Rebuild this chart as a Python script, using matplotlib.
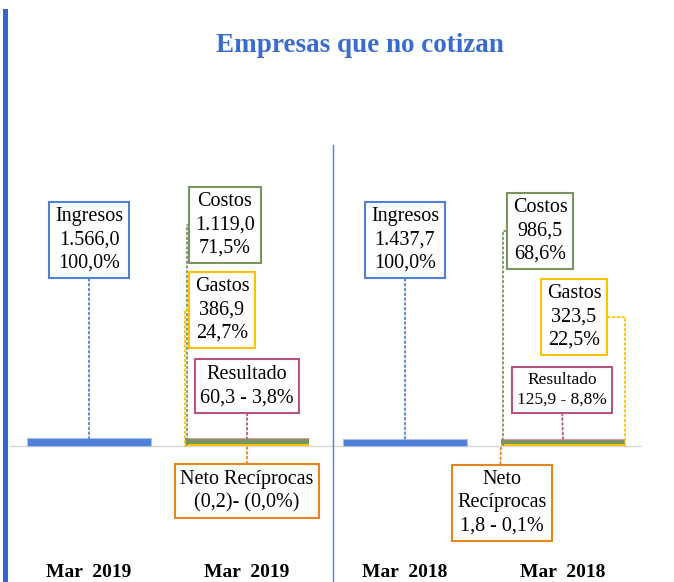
import matplotlib.pyplot as plt
from matplotlib.patches import Rectangle

plt.rcParams['font.family'] = ['Liberation Serif', 'DejaVu Serif']

# data (millones)
periodos = ["Mar  2019", "Mar  2019", "Mar  2018", "Mar  2018"]
ingresos = [1566.0, 1437.7]
costos = [1119.0, 986.5]
gastos = [386.9, 323.5]
resultado = [60.3, 125.9]
neto_reciprocas = [-0.2, 1.8]
pct_costos = ["71,5%", "68,6%"]
pct_gastos = ["24,7%", "22,5%"]
pct_resultado = ["3,8%", "8,8%"]
pct_neto = ["(0,0%)", "0,1%"]

c_ing = "#4F7FD6"
c_cos = "#7A9460"
c_gas = "#FFC000"
c_res = "#B8527E"
c_net = "#E5851C"

W, H = 674, 582
fig = plt.figure(figsize=(W / 100, H / 100), dpi=100)
ax = fig.add_axes([10 / W, 24 / H, 632 / W, 413 / H])

bw = 0.785
x_ing = [0, 2]
x_stk = [1, 3]
ax.bar(x_ing, ingresos, width=bw, color=c_ing, edgecolor="#A9C0EC", linewidth=0.8, zorder=3)
ax.bar(x_stk, gastos, width=bw, color=c_gas, zorder=3)
ax.bar(x_stk, costos, width=bw, bottom=gastos, color=c_cos, zorder=3)
bot = [g + c for g, c in zip(gastos, costos)]
ax.bar(x_stk, resultado, width=bw, bottom=bot, color=c_res, edgecolor="#D99AA8", linewidth=0.8, zorder=3)

ax.set_xlim(-0.5, 3.5)
ax.set_ylim(-112 * 195.75, 301 * 195.75)
ax.axhline(0, color="#D9D9D9", lw=1, zorder=1)
ax.axvline(1.545, ymin=-24 / 413, ymax=1, color="#5B7BD0", lw=1, clip_on=False)
for s in ax.spines.values():
    s.set_visible(False)
ax.set_yticks([])
ax.set_xticks(range(4))
ax.set_xticklabels(periodos, fontsize=14, fontweight="bold")
ax.tick_params(axis="x", length=0, pad=4)


def label(txt, xy, pos, color, conn="arc3", relpos=(0.5, 0.5), size=14.5):
    ax.annotate(txt, xy=xy, xycoords="data", xytext=(pos[0], H - pos[1]),
                textcoords="figure pixels", ha="center", va="center",
                fontsize=size, linespacing=1.3,
                bbox=dict(boxstyle="square,pad=0.28", fc="white", ec=color, lw=1.5),
                arrowprops=dict(arrowstyle="-", color=color, ls=":", lw=1.3,
                                connectionstyle=conn, relpos=relpos,
                                shrinkA=0, shrinkB=0),
                zorder=5)


fmt = lambda v: f"{v:,.1f}".replace(",", "X").replace(".", ",").replace("X", ".")
pos_ing = [(89, 240), (405, 240)]
pos_cos = [(225, 225), (540, 231)]
pos_gas = [(222, 310), (574, 317)]
pos_res = [(247, 386), (562, 390)]
pos_net = [(247, 491), (502, 503)]
res_size = [14.5, 12.5]

for i in range(2):
    xi, xs = x_ing[i], x_stk[i]
    left, right = xs - bw / 2, xs + bw / 2
    top = ingresos[i]
    label(f"Ingresos\n{fmt(ingresos[i])}\n100,0%", (xi, top), pos_ing[i], c_ing,
          relpos=(0.5, 0))
    label(f"Costos\n{fmt(costos[i])}\n{pct_costos[i]}", (left + 0.01, 0), pos_cos[i], c_cos,
          conn="angle,angleA=0,angleB=90,rad=0", relpos=(0, 0.5))
    if i == 0:
        label(f"Gastos\n{fmt(gastos[i])}\n{pct_gastos[i]}", (left, 0), pos_gas[i], c_gas,
              conn="angle,angleA=0,angleB=90,rad=0", relpos=(0, 0.5))
    else:
        label(f"Gastos\n{fmt(gastos[i])}\n{pct_gastos[i]}", (right, 0), pos_gas[i], c_gas,
              conn="angle,angleA=0,angleB=90,rad=0", relpos=(1, 0.5))
    label(f"Resultado\n{fmt(resultado[i])} - {pct_resultado[i]}", (xs, bot[i] + resultado[i]),
          pos_res[i], c_res, relpos=(0.5, 0), size=res_size[i])
    if i == 0:
        txt = f"Neto Recíprocas\n({fmt(abs(neto_reciprocas[i]))})- {pct_neto[i]}"
        label(txt, (xs, 0), pos_net[i], c_net, relpos=(0.5, 1))
    else:
        txt = f"Neto\nRecíprocas\n{fmt(neto_reciprocas[i])} - {pct_neto[i]}"
        label(txt, (left, 0), pos_net[i], c_net, relpos=(0.48, 1))

fig.text(360 / W, 1 - 45 / H, "Empresas que no cotizan", ha="center", va="center",
         fontsize=19.5, fontweight="bold", color="#3A6BD1")
fig.add_artist(Rectangle((3 / W, 0), 5 / W, 1 - 9 / H, transform=fig.transFigure,
                         color="#3366CC", lw=0))

fig.savefig("out.png", dpi=100)
